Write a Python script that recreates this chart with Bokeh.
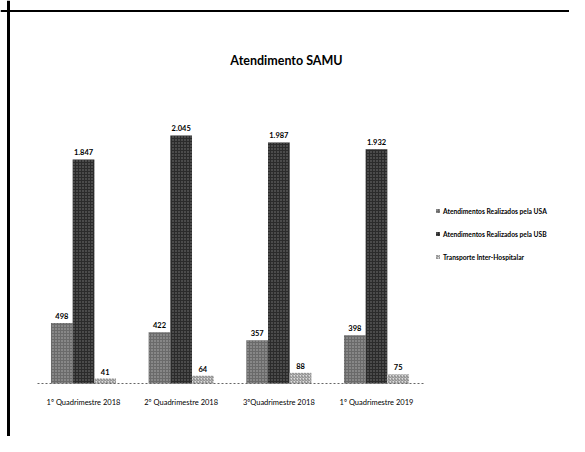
from bokeh.plotting import figure
from bokeh.models import (Range1d, LinearAxis, FixedTicker, Span, Label,
                          ColumnDataSource)
from bokeh.transform import dodge
from bokeh.core.properties import value
from bokeh.embed import file_html
from bokeh.resources import INLINE

# ---- data ----
categories = ["1º Quadrimestre 2018", "2º Quadrimestre 2018",
              "3ºQuadrimestre 2018", "1º Quadrimestre 2019"]
usa = [498, 422, 357, 398]
usb = [1847, 2045, 1987, 1932]
transporte = [41, 64, 88, 75]
series_names = ["Atendimentos Realizados pela USA",
                "Atendimentos Realizados pela USB",
                "Transporte Inter-Hospitalar"]
title_text = "Atendimento SAMU"

def fmt(v):
    return f"{v:,}".replace(",", ".")

xs = list(range(len(categories)))
src = ColumnDataSource(dict(
    x=xs, usa=usa, usb=usb, tr=transporte,
    usa_l=[fmt(v) for v in usa], usb_l=[fmt(v) for v in usb],
    tr_l=[fmt(v) for v in transporte],
))

W, H = 569, 436
px_per_cat = 97.67
x_start = -83 / px_per_cat
y_per_px = 8.244
base_px = 383
y_start = -(H - base_px) * y_per_px
y_end = base_px * y_per_px

p = figure(width=W, height=H, output_backend="svg", toolbar_location=None,
           x_axis_location=None, y_axis_location=None,
           x_range=Range1d(x_start, x_start + W / px_per_cat),
           y_range=Range1d(y_start, y_end),
           min_border=0, min_border_left=0, min_border_right=0,
           min_border_top=0, min_border_bottom=0)
p.outline_line_color = None
p.xgrid.visible = False
p.ygrid.visible = False
p.background_fill_color = "white"
p.border_fill_color = "white"

FONT = "Lato"
bw = 0.222
p.vbar(x=dodge("x", -bw, range=p.x_range), top="usa", width=bw, source=src,
       fill_color="#6a6a6a", line_color=None,
       hatch_pattern="dot", hatch_color="#b0b0b0", hatch_scale=3,
       legend_label=series_names[0])
p.vbar(x=dodge("x", 0, range=p.x_range), top="usb", width=bw, source=src,
       fill_color="#2b2b2b", line_color=None,
       hatch_pattern="dot", hatch_color="#7a7a7a", hatch_scale=3,
       legend_label=series_names[1])
p.vbar(x=dodge("x", bw, range=p.x_range), top="tr", width=bw, source=src,
       fill_color="#dcdcdc", line_color=None,
       hatch_pattern="/", hatch_color="#808080", hatch_scale=3,
       legend_label=series_names[2])

for off, col, lab in [(-bw, "usa", "usa_l"), (0, "usb", "usb_l"), (bw, "tr", "tr_l")]:
    p.text(x=dodge("x", off, range=p.x_range), y=col, text=lab, source=src,
           text_font=value(FONT), text_font_size="7.5px", text_color="#000000",
           text_font_style="bold",
           text_align="center", text_baseline="bottom", y_offset=-4)

xaxis = LinearAxis(ticker=FixedTicker(ticks=xs), fixed_location=0,
                   bounds=(-0.47, 3.5))
xaxis.major_label_overrides = {i: c for i, c in zip(xs, categories)}
xaxis.axis_line_color = "#666666"
xaxis.axis_line_dash = "2 2"
xaxis.axis_line_width = 1
xaxis.major_tick_line_color = None
xaxis.minor_tick_line_color = None
xaxis.major_label_standoff = 8
xaxis.major_label_text_font = FONT
xaxis.major_label_text_font_size = "7.5px"
xaxis.major_label_text_color = "#000000"
p.add_layout(xaxis, "below")

# frame borders (left and top)
p.add_layout(Span(location=x_start + 8 / px_per_cat, dimension="height",
                  line_color="black", line_width=3))
p.add_layout(Span(location=y_end - 10.5 * y_per_px, dimension="width",
                  line_color="black", line_width=2))

p.add_layout(Label(x=286, y=H - 60, x_units="screen", y_units="screen",
                   text=title_text, text_font=FONT, text_font_style="bold",
                   text_font_size="12.5px", text_align="center",
                   text_baseline="middle", text_color="black"))

leg = p.legend[0]
leg.location = (435, H - 206 - 55)
leg.orientation = "vertical"
leg.glyph_width = 5
leg.glyph_height = 5
leg.label_standoff = 3
leg.label_height = 9
leg.spacing = 14
leg.padding = 0
leg.margin = 0
leg.border_line_color = None
leg.background_fill_color = None
leg.label_text_font = FONT
leg.label_text_font_size = "6.7px"
leg.label_text_font_style = "bold"
leg.label_text_color = "#000000"

open("out.html", "w").write(file_html(p, INLINE))
